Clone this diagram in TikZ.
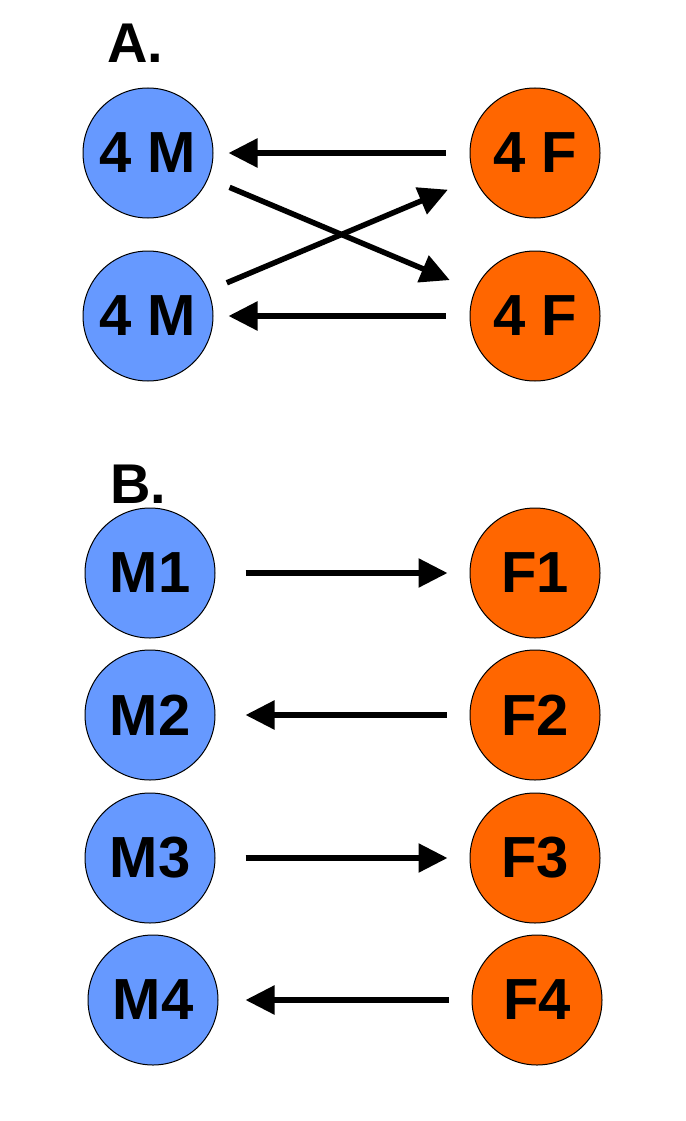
\documentclass[tikz,border=0pt]{standalone}
\usepackage{fontspec}
\setmainfont{Liberation Sans}
\usetikzlibrary{arrows.meta}
\definecolor{maleblue}{RGB}{102,153,255}
\definecolor{femaleorange}{RGB}{255,102,0}
\tikzset{
  male/.style={circle,draw,line width=1pt,fill=maleblue,minimum size=130pt,inner sep=0pt,font=\fontsize{58}{60}\selectfont\bfseries},
  female/.style={circle,draw,line width=1pt,fill=femaleorange,minimum size=130pt,inner sep=0pt,font=\fontsize{58}{60}\selectfont\bfseries},
  link/.style={-{Triangle[length=29pt,width=28pt]},line width=5.5pt},
  panel/.style={anchor=base west,inner sep=0pt,font=\fontsize{56}{60}\selectfont\bfseries}
}

\begin{document}
\begin{tikzpicture}[x=1pt,y=-1pt]
        \useasboundingbox (0,0) rectangle (685,1121);

        % Panel A: pooled groups
        \node[panel] (labA) at (107,63) {A.};
        \node[male] (ma1) at (148,153) {4 M};
        \node[male] (ma2) at (148,316) {4 M};
        \node[female] (fa1) at (535,153) {4 F};
        \node[female] (fa2) at (535,316) {4 F};

        \draw[link,shorten <=24pt,shorten >=15pt] (fa1) -- (ma1);
        \draw[link,shorten <=24pt,shorten >=15pt] (fa2) -- (ma2);
        \draw[link,shorten <=23pt,shorten >=27pt] (ma1) -- (fa2);
        \draw[link,shorten <=20pt,shorten >=29pt] (ma2) -- (fa1);

        % Panel B: single pairs
        \node[panel] (labB) at (110,503) {B.};
        \node[male] (m1) at (150,573) {M1};
        \node[male] (m2) at (150,715) {M2};
        \node[male] (m3) at (150,858) {M3};
        \node[male] (m4) at (153,1000) {M4};
        \node[female] (f1) at (535,573) {F1};
        \node[female] (f2) at (535,715) {F2};
        \node[female] (f3) at (535,858) {F3};
        \node[female] (f4) at (537,1000) {F4};

        \draw[link,shorten <=30pt,shorten >=22pt] (m1) -- (f1);
        \draw[link,shorten <=23pt,shorten >=30pt] (f2) -- (m2);
        \draw[link,shorten <=30pt,shorten >=22pt] (m3) -- (f3);
        \draw[link,shorten <=23pt,shorten >=27pt] (f4) -- (m4);
    \end{tikzpicture}
\end{document}
